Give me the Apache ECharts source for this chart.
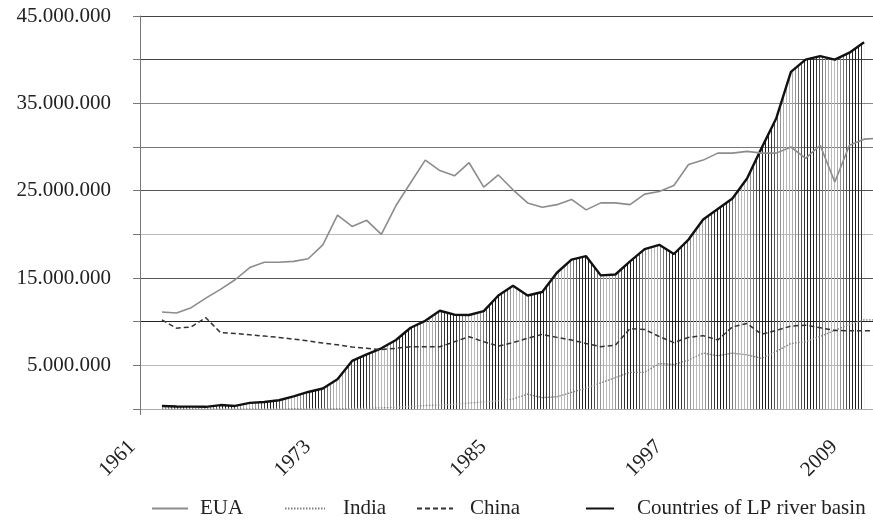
<!DOCTYPE html>
<html><head><meta charset="utf-8">
<script src="https://cdn.jsdelivr.net/npm/echarts@6/dist/echarts.min.js"></script>
<style>html,body{margin:0;padding:0;background:#fff;overflow:hidden;width:873px;height:520px}#c{width:886px;height:520px}</style>
</head><body><div id="c"></div>
<script>
// Years (1960 is an empty leading slot; data start in 1961)
const years = ['1960','1961','1962','1963','1964','1965','1966','1967','1968','1969','1970',
  '1971','1972','1973','1974','1975','1976','1977','1978','1979','1980',
  '1981','1982','1983','1984','1985','1986','1987','1988','1989','1990',
  '1991','1992','1993','1994','1995','1996','1997','1998','1999','2000',
  '2001','2002','2003','2004','2005','2006','2007','2008','2009','2010'];
const xTickLabels = ['1961','1973','1985','1997','2009'];
const yTickLabels = [5000000, 15000000, 25000000, 35000000, 45000000];

// values in millions
const eua = [null, 11.1,11.0,11.6,12.7,13.7,14.8,16.2,16.8,16.8,16.9,
  17.2,18.8,22.2,20.9,21.6,20.0,23.3,25.9,28.5,27.3,
  26.7,28.2,25.4,26.8,25.1,23.6,23.1,23.4,24.0,22.8,
  23.6,23.6,23.4,24.6,24.9,25.6,28.0,28.5,29.3,29.3,
  29.5,29.3,29.3,30.0,28.7,30.2,26.0,30.2,30.9,31.0];
const india = [null, 0.01,0.01,0.01,0.01,0.01,0.01,0.01,0.02,0.02,0.03,
  0.03,0.03,0.03,0.05,0.09,0.13,0.2,0.3,0.4,0.45,
  0.55,0.68,0.8,0.95,1.15,1.7,1.3,1.4,1.9,2.4,
  3.0,3.6,4.2,4.2,5.2,5.1,5.6,6.4,6.1,6.4,
  6.2,5.8,6.6,7.5,7.7,8.3,9.0,9.7,10.2,10.2];
const china = [null, 10.2,9.25,9.4,10.45,8.75,8.65,8.5,8.35,8.2,8.0,
  7.8,7.55,7.35,7.1,6.95,6.8,6.95,7.13,7.13,7.13,
  7.7,8.28,7.7,7.2,7.6,8.1,8.55,8.2,7.9,7.5,
  7.13,7.3,9.2,9.1,8.3,7.6,8.2,8.4,7.9,9.4,
  9.8,8.55,9.0,9.5,9.6,9.3,9.0,8.95,8.95,8.95];
const lpBasin = [null, 0.35,0.28,0.27,0.25,0.45,0.35,0.7,0.8,1.0,1.45,
  1.95,2.35,3.4,5.5,6.25,6.95,7.9,9.3,10.1,11.25,
  10.8,10.76,11.2,13.0,14.1,13.0,13.4,15.6,17.1,17.5,
  15.3,15.4,16.9,18.3,18.8,17.75,19.4,21.7,22.9,24.1,
  26.4,29.9,33.3,38.6,40.0,40.4,40.0,40.8,42.0,null];

const M = v => v == null ? null : Math.round(v * 1e6);
const fmt = v => String(v).replace(/\B(?=(\d{3})+(?!\d))/g, '.');

// vertical hatch pattern (1px lines every 3px, shade varying in bands)
const pc = document.createElement('canvas');
pc.width = 45; pc.height = 6;
const g = pc.getContext('2d');
for (let i = 0; i < 15; i++) {
  const s = Math.round(0x1c + (0xbc - 0x1c) * (0.5 - 0.5 * Math.cos(2 * Math.PI * i / 15)));
  g.fillStyle = 'rgb(' + s + ',' + s + ',' + s + ')';
  g.fillRect(i * 3, 0, 1, 6);
}

const FONT = 'Liberation Serif';
const txt = {fontFamily: FONT, fontSize: 21, color: '#222'};

const chart = echarts.init(document.getElementById('c'), null, {renderer: 'canvas'});
function lg(name, left, w, pad) {
  return {data: [name], left: left, top: 493, itemWidth: w, itemHeight: 14,
    itemStyle: {opacity: 0},
    textStyle: Object.assign({padding: [0, 0, 0, pad]}, txt), selectedMode: false};
}
chart.setOption({
  animation: false,
  backgroundColor: '#fff',
  grid: {left: 140, top: 16, right: 0, height: 393, containLabel: false},
  legend: [lg('EUA', 146, 36, 7), lg('India', 279, 40, 13), lg('China', 411, 36, 12), lg('Countries of LP river basin', 580, 28, 18)],
  xAxis: {
    type: 'category', data: years, boundaryGap: true,
    axisLine: {lineStyle: {color: '#aaa', width: 1}},
    axisTick: {show: true, length: 6, interval: (i) => i === 0, lineStyle: {color: '#777'}},
    splitLine: {show: false},
    axisLabel: Object.assign({
      rotate: 45, margin: 5, padding: [0, 42, 0, 0],
      interval: (i, v) => xTickLabels.indexOf(v) >= 0
    }, txt)
  },
  yAxis: {
    type: 'value', min: 0, max: 45000000, interval: 5000000,
    axisLine: {show: true, lineStyle: {color: '#777', width: 1}},
    axisTick: {show: true, length: 7, lineStyle: {color: '#777'}},
    splitLine: {show: true, lineStyle: {width: 1,
      color: ['#bbb','#bbb','#222','#555','#bbb','#555','#777','#888','#444','#444']}},
    axisLabel: Object.assign({margin: 29,
      formatter: v => yTickLabels.indexOf(v) >= 0 ? fmt(v) : ''}, txt)
  },
  series: [
    {name: 'Countries of LP river basin', type: 'line', data: lpBasin.map(M), symbol: 'none', z: 2,
      lineStyle: {color: '#111', width: 2.4}, itemStyle: {color: '#111'},
      areaStyle: {color: {image: pc, repeat: 'repeat'}, opacity: 1}},
    {name: 'EUA', type: 'line', data: eua.map(M), symbol: 'none', z: 3,
      lineStyle: {color: '#8c8c8c', width: 1.6}, itemStyle: {color: '#8c8c8c'}},
    {name: 'India', type: 'line', data: india.map(M), symbol: 'none', z: 3,
      lineStyle: {color: '#808080', width: 1.3, type: [1.5, 1.5]}, itemStyle: {color: '#808080'}},
    {name: 'China', type: 'line', data: china.map(M), symbol: 'none', z: 3,
      lineStyle: {color: '#333', width: 1.5, type: [5, 3]}, itemStyle: {color: '#333'}}
  ]
});
</script></body></html>
